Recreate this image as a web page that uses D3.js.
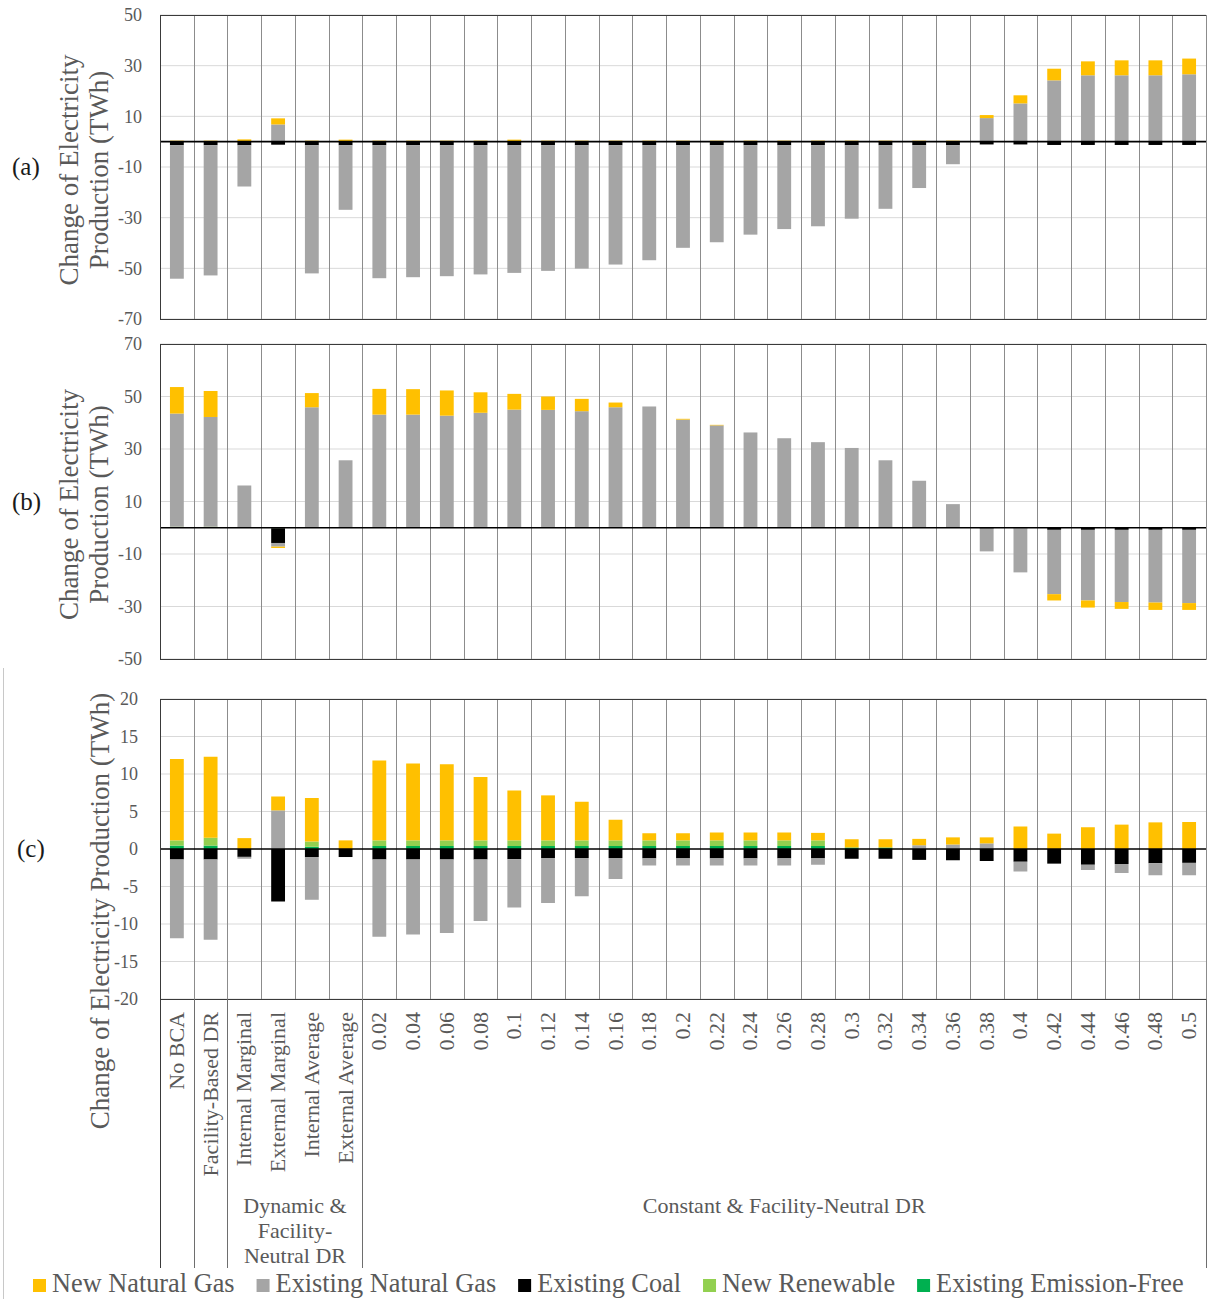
<!DOCTYPE html>
<html>
<head>
<meta charset="utf-8">
<script src="https://cdn.jsdelivr.net/npm/d3@7"></script>
<style>
  body { margin: 0; background: #fff; }
  svg text { font-family: "Liberation Serif", "Times New Roman", serif; }
</style>
</head>
<body>
<svg id="chart" width="1207" height="1299"></svg>
<script>
// ---- categories -------------------------------------------------------
const categories = [
  "No BCA", "Facility-Based DR", "Internal Marginal", "External Marginal",
  "Internal Average", "External Average",
  "0.02", "0.04", "0.06", "0.08", "0.1", "0.12", "0.14", "0.16", "0.18", "0.2",
  "0.22", "0.24", "0.26", "0.28", "0.3", "0.32", "0.34", "0.36", "0.38", "0.4",
  "0.42", "0.44", "0.46", "0.48", "0.5"
];
// category groups along the axis (label, number of categories)
const groupLabels = ["", "", "Dynamic &\nFacility-\nNeutral DR", "Constant & Facility-Neutral DR"];
const groupSizes = [1, 1, 4, 25];

const seriesNames = ["New Natural Gas", "Existing Natural Gas", "Existing Coal", "New Renewable", "Existing Emission-Free"];
const seriesColors = ["#FFC000", "#A5A5A5", "#000000", "#92D050", "#00B050"];

// ---- panel (a), TWh ----------------------------------------------------
const aNewGas = [0.4, 0.4, 0.9, 2.4, 0.4, 0.8, 0.4, 0.4, 0.4, 0.4, 0.8, 0.4, 0.4, 0.4, 0.4, 0.4,
  0.4, 0.4, 0.4, 0.4, 0.4, 0.4, 0.4, 0.4, 1.2, 3.2, 4.6, 5.5, 5.9, 5.9, 6.2];
const aExistingGas = [-52.7, -51.4, -16.3, 6.6, -50.6, -25.5, -52.5, -52.1, -51.7, -51.0, -50.4, -49.6, -48.7, -47.1, -45.4, -40.5,
  -38.3, -35.3, -33.1, -32.0, -29.0, -25.1, -16.9, -7.5, 9.3, 15.1, 24.2, 26.2, 26.2, 26.2, 26.6];
const aCoal = [-1.4, -1.4, -1.4, -1.2, -1.4, -1.4, -1.4, -1.4, -1.4, -1.4, -1.4, -1.4, -1.4, -1.4, -1.4, -1.4,
  -1.4, -1.4, -1.4, -1.4, -1.4, -1.4, -1.4, -1.4, -1.1, -1.1, -1.3, -1.3, -1.3, -1.3, -1.3];
const aNewRenewable = [0, 0, 0, 0.2, 0, 0, 0, 0, 0, 0, 0, 0, 0, 0, 0, 0,
  0, 0, 0, 0, 0, 0, 0, 0, 0, 0, 0, 0, 0, 0, 0];
const aEmissionFree = [0, 0, 0, 0, 0, 0, 0, 0, 0, 0, 0, 0, 0, 0, 0, 0,
  0, 0, 0, 0, 0, 0, 0, 0, 0, 0, 0, 0, 0, 0, 0];

// ---- panel (b), TWh ----------------------------------------------------
const bNewGas = [10.1, 9.9, 0, -0.5, 5.4, 0, 9.8, 9.7, 9.6, 7.8, 6.0, 5.1, 4.7, 1.8, 0, 0.3,
  0.2, 0, 0, 0, 0, 0, 0, 0, 0, 0, -2.4, -2.7, -2.6, -2.8, -2.6];
const bExistingGas = [43.1, 41.8, 16.1, -1.4, 45.6, 25.7, 42.8, 42.8, 42.4, 43.5, 44.7, 44.6, 44.1, 45.6, 45.9, 40.9,
  38.7, 36.0, 33.8, 32.3, 30.1, 25.7, 17.9, 9.0, -8.7, -16.8, -24.5, -26.9, -27.5, -27.7, -27.9];
const bCoal = [0, 0, 0, -5.6, 0, 0, 0, 0, 0, 0, 0, 0, 0, 0, 0, 0,
  0, 0, 0, 0, 0, 0, 0, 0, -0.3, -0.2, -0.8, -0.8, -0.8, -0.8, -0.8];
const bNewRenewable = [0.4, 0.4, 0, -0.2, 0.3, 0, 0.3, 0.3, 0.3, 0.3, 0.3, 0.3, 0.3, 0.3, 0.3, 0.3,
  0.3, 0.3, 0.3, 0.3, 0.3, 0, 0, 0, 0, 0, 0, 0, 0, 0, 0];
const bEmissionFree = [0, 0, 0, 0, 0, 0, 0, 0, 0, 0, 0, 0, 0, 0, 0, 0,
  0, 0, 0, 0, 0, 0, 0, 0, 0, 0, 0, 0, 0, 0, 0];

// ---- panel (c), TWh ----------------------------------------------------
const cNewGas = [10.85, 10.8, 1.45, 1.85, 5.8, 1.15, 10.65, 10.25, 10.15, 8.45, 6.65, 6.0, 5.15, 2.75, 0.95, 0.95,
  1.05, 1.05, 1.05, 1.0, 1.1, 1.1, 0.85, 0.95, 0.8, 3.0, 2.05, 2.9, 3.25, 3.55, 3.6];
const cExistingGas = [-10.5, -10.7, -0.25, 5.15, -5.7, 0, -10.3, -10.0, -9.8, -8.2, -6.45, -6.0, -5.1, -2.8, -0.95, -0.95,
  -0.95, -0.95, -0.95, -0.85, 0, 0, 0.5, 0.6, 0.75, -1.3, 0, -0.7, -1.2, -1.6, -1.65];
const cCoal = [-1.4, -1.4, -1.05, -7.0, -1.07, -1.07, -1.4, -1.4, -1.4, -1.4, -1.35, -1.2, -1.2, -1.2, -1.25, -1.25,
  -1.25, -1.25, -1.25, -1.25, -1.3, -1.3, -1.45, -1.5, -1.6, -1.7, -1.95, -2.1, -2.0, -1.9, -1.85];
const cNewRenewable = [0.7, 1.05, 0, 0, 0.7, 0, 0.75, 0.75, 0.75, 0.75, 0.75, 0.75, 0.75, 0.75, 0.75, 0.75,
  0.75, 0.75, 0.75, 0.75, 0, 0, 0, 0, 0, 0, 0, 0, 0, 0, 0];
const cEmissionFree = [0.45, 0.45, 0, 0, 0.3, 0, 0.4, 0.4, 0.4, 0.4, 0.4, 0.4, 0.4, 0.4, 0.4, 0.4,
  0.4, 0.4, 0.4, 0.4, 0.2, 0.2, 0, 0, 0, 0, 0, 0, 0, 0, 0];

// ---- y-axis ticks --------------------------------------------------------
const aTicks = [50, 30, 10, -10, -30, -50, -70];
const bTicks = [70, 50, 30, 10, -10, -30, -50];
const cTicks = [20, 15, 10, 5, 0, -5, -10, -15, -20];

const yTitleLines = ["Change of Electricity", "Production (TWh)"];
const yTitleSingle = "Change of Electricity Production (TWh)";
const panelLetters = ["(a)", "(b)", "(c)"];

// ---------------------------------------------------------------------------
const svg = d3.select("#chart");
const left = 160, right = 1206;
const textGray = "#595959";

const x = d3.scaleBand().domain(categories).range([left, right]).padding(0);
const barW = x.bandwidth() * 0.41;

// stacking order outward from the zero line
const stackKeys = ["emissionFree", "newRenewable", "coal", "existingGas", "newGas"];
const keyColor = {
  newGas: seriesColors[0], existingGas: seriesColors[1], coal: seriesColors[2],
  newRenewable: seriesColors[3], emissionFree: seriesColors[4]
};

function rows(newGas, existingGas, coal, newRenewable, emissionFree) {
  return categories.map((c, i) => ({
    cat: c, newGas: newGas[i], existingGas: existingGas[i], coal: coal[i],
    newRenewable: newRenewable[i], emissionFree: emissionFree[i]
  }));
}

const panels = [
  { data: rows(aNewGas, aExistingGas, aCoal, aNewRenewable, aEmissionFree),
    domain: [-70, 50], top: 15, bottom: 319, ticks: aTicks, tickX: 142,
    letter: panelLetters[0], letterX: 12, twoLine: true },
  { data: rows(bNewGas, bExistingGas, bCoal, bNewRenewable, bEmissionFree),
    domain: [-50, 70], top: 344, bottom: 659, ticks: bTicks, tickX: 142,
    letter: panelLetters[1], letterX: 12, twoLine: true },
  { data: rows(cNewGas, cExistingGas, cCoal, cNewRenewable, cEmissionFree),
    domain: [-20, 20], top: 699, bottom: 999, ticks: cTicks, tickX: 138,
    letter: panelLetters[2], letterX: 17, twoLine: false }
];

const stack = d3.stack().keys(stackKeys).offset(d3.stackOffsetDiverging);
// plain hyphen for negative tick values
const tickFmt = d => String(d);

panels.forEach(p => {
  const y = d3.scaleLinear().domain(p.domain).range([p.bottom, p.top]);
  const g = svg.append("g");

  // horizontal gridlines
  g.append("g").selectAll("line").data(p.ticks.filter(t => t !== 0)).join("line")
    .attr("x1", left).attr("x2", right)
    .attr("y1", d => y(d)).attr("y2", d => y(d))
    .attr("stroke", "#d9d9d9").attr("stroke-width", 1);

  // column separators
  const bounds = categories.slice(1).map(c => Math.round(x(c)) + 0.5);
  g.append("g").selectAll("line").data(bounds).join("line")
    .attr("x1", d => d).attr("x2", d => d)
    .attr("y1", p.top).attr("y2", p.bottom)
    .attr("stroke", "#8c8c8c").attr("stroke-width", 1);

  // stacked bars
  const series = stack(p.data);
  g.append("g").selectAll("g").data(series).join("g")
    .attr("fill", s => keyColor[s.key])
    .selectAll("rect").data(s => s).join("rect")
    .attr("x", d => x(d.data.cat) + (x.bandwidth() - barW) / 2)
    .attr("width", barW)
    .attr("y", d => y(Math.max(d[0], d[1])))
    .attr("height", d => Math.abs(y(d[0]) - y(d[1])));

  // zero line
  g.append("line").attr("x1", left).attr("x2", right)
    .attr("y1", y(0)).attr("y2", y(0))
    .attr("stroke", "#000").attr("stroke-width", 1.6);

  // frame
  g.append("line").attr("x1", left).attr("x2", right + 0.5)
    .attr("y1", p.top + 0.5).attr("y2", p.top + 0.5).attr("stroke", "#3a3a3a");
  g.append("line").attr("x1", left).attr("x2", right + 0.5)
    .attr("y1", p.bottom + 0.5).attr("y2", p.bottom + 0.5).attr("stroke", "#3a3a3a");
  g.append("line").attr("x1", left + 0.5).attr("x2", left + 0.5)
    .attr("y1", p.top).attr("y2", p.bottom).attr("stroke", "#3a3a3a");
  g.append("line").attr("x1", right + 0.5).attr("x2", right + 0.5)
    .attr("y1", p.top).attr("y2", p.bottom).attr("stroke", "#8c8c8c");

  // tick labels
  const axis = d3.axisLeft(y).tickValues(p.ticks).tickSize(0).tickPadding(0)
    .tickFormat(tickFmt);
  const ax = g.append("g").attr("transform", `translate(${p.tickX},0)`).call(axis);
  ax.select(".domain").remove();
  ax.selectAll("text").attr("font-size", 18).attr("fill", textGray)
    .style("font-family", "'Liberation Serif', serif");

  // y-axis title
  const cy = (p.top + p.bottom) / 2;
  if (p.twoLine) {
    yTitleLines.forEach((t, i) => {
      svg.append("text")
        .attr("transform", `translate(${78 + i * 30},${cy + 3}) rotate(-90)`)
        .attr("text-anchor", "middle").attr("font-size", 27).attr("fill", textGray)
        .text(t);
    });
  } else {
    svg.append("text")
      .attr("transform", `translate(109,911) rotate(-90)`)
      .attr("text-anchor", "middle").attr("font-size", 27).attr("fill", textGray)
      .text(yTitleSingle);
  }

  // panel letter
  svg.append("text").attr("x", p.letterX).attr("y", (p.twoLine ? cy : y(0)) + 8)
    .attr("font-size", 25).attr("fill", "#1a1a1a").text(p.letter);
});

// ---- category axis below panel (c) ---------------------------------------
const axisTop = 999, axisBottom = 1268;
const cat = svg.append("g");
cat.selectAll("text").data(categories).join("text")
  .attr("transform", d => `translate(${x(d) + x.bandwidth() / 2 + 7},1012) rotate(-90)`)
  .attr("text-anchor", "end").attr("font-size", 22).attr("fill", textGray)
  .text(d => d);

// group boundaries and labels
let idx = 0;
const groupEdges = [0];
groupSizes.forEach(n => { idx += n; groupEdges.push(idx); });
const edgeX = i => i >= categories.length ? right : x(categories[i]);
cat.selectAll("line.edge").data(groupEdges).join("line")
  .attr("class", "edge")
  .attr("x1", i => Math.round(edgeX(i)) + 0.5).attr("x2", i => Math.round(edgeX(i)) + 0.5)
  .attr("y1", axisTop).attr("y2", axisBottom)
  .attr("stroke", i => (i === 0 ? "#3a3a3a" : "#6e6e6e"));

groupLabels.forEach((lbl, gi) => {
  if (!lbl) return;
  const cx = (edgeX(groupEdges[gi]) + edgeX(groupEdges[gi + 1])) / 2;
  const t = cat.append("text").attr("text-anchor", "middle")
    .attr("font-size", 22).attr("fill", textGray);
  lbl.split("\n").forEach((line, li) => {
    t.append("tspan").attr("x", cx).attr("y", 1213 + li * 25).text(line);
  });
});

// faint outer edge on the left of the lower panel
svg.append("line").attr("x1", 3.5).attr("x2", 3.5).attr("y1", 668).attr("y2", 1299)
  .attr("stroke", "#c8c8c8");

// ---- legend ---------------------------------------------------------------
const legend = svg.append("g");
let lx = 33;
seriesNames.forEach((name, i) => {
  legend.append("rect").attr("x", lx).attr("y", 1279).attr("width", 13).attr("height", 13)
    .attr("fill", seriesColors[i]);
  const t = legend.append("text").attr("x", lx + 19).attr("y", 1292)
    .attr("font-size", 26.3).attr("fill", textGray).text(name);
  lx += 19 + t.node().getComputedTextLength() + 22;
});
</script>
</body>
</html>
